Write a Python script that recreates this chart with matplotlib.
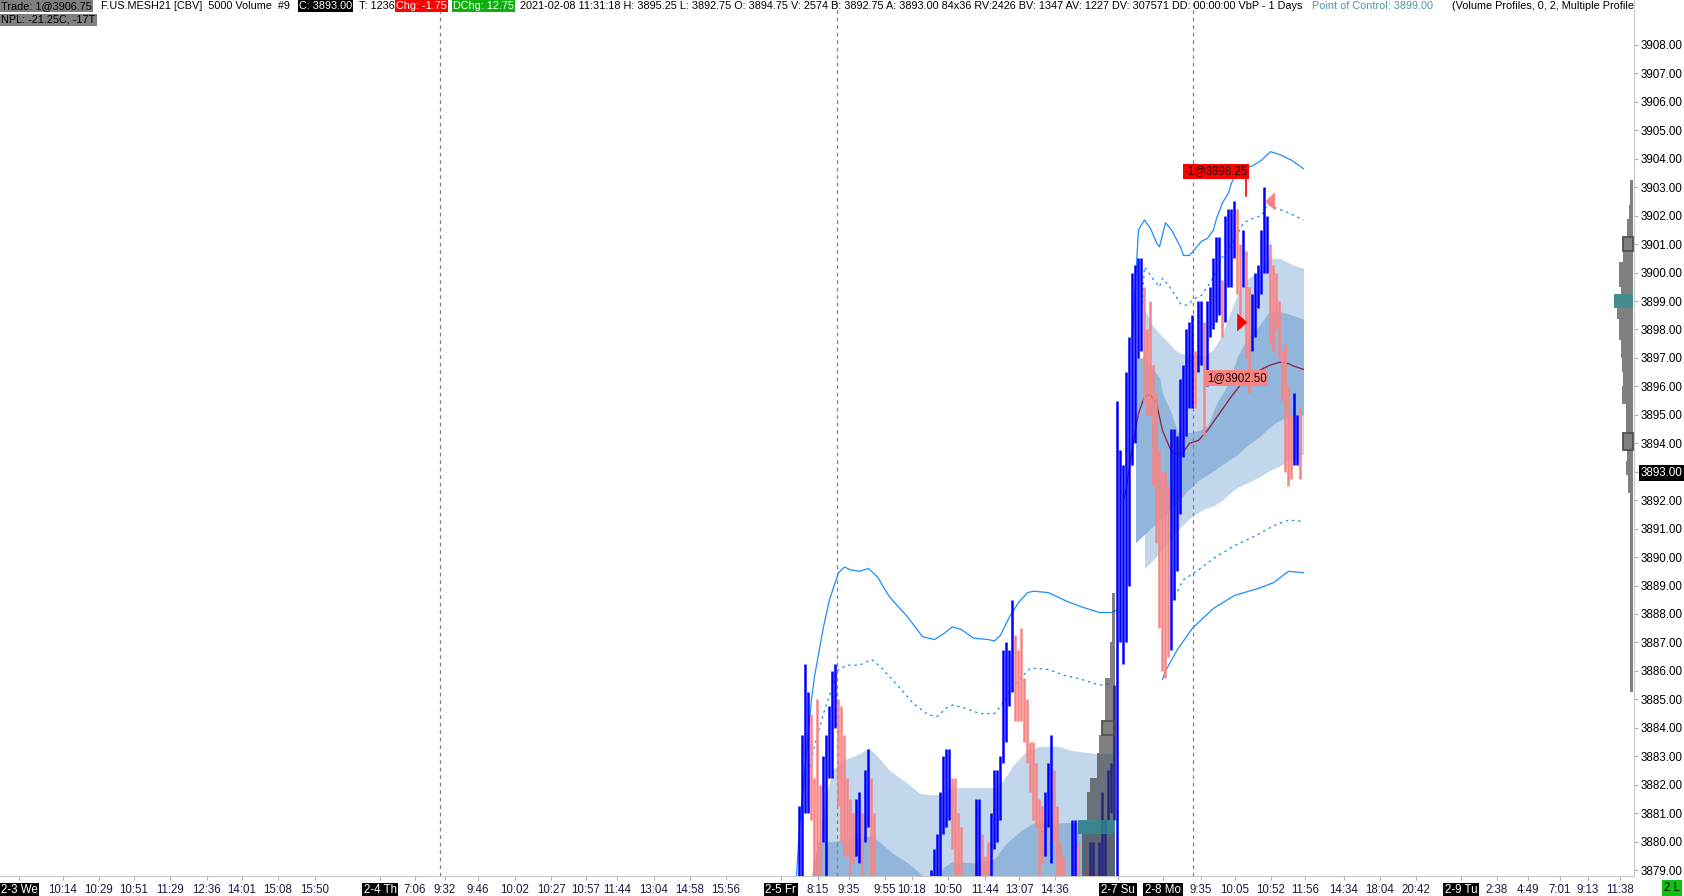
import numpy as np
import matplotlib.pyplot as plt
from matplotlib.patches import Rectangle

plt.rcParams['font.family'] = ['Liberation Sans', 'DejaVu Sans']

nan = np.nan

# 5000-volume bars, index = bar number (nan = bar below the visible range)
bar_high = [
    3881.25, 3883.75, 3886.25, 3885.25, 3884.5, 3882.25, 3885.0, 3882.0, 3883.0, 3883.75,
    3884.75, 3886.0, 3886.25, 3885.0, 3884.75, 3883.75, 3882.25, 3881.5, 3881.0, 3881.5,
    3881.75, 3881.0, 3882.5, 3883.25, 3882.25, 3881.0, nan, nan, nan, nan,
    nan, nan, nan, nan, nan, nan, nan, nan, nan, nan,
    nan, nan, nan, nan, 3879.0, 3879.75, 3880.25, 3881.75, 3883.0, 3883.25,
    3883.25, 3882.25, 3882.25, 3881.0, 3880.5, nan, nan, nan, nan, 3881.5,
    3881.5, 3880.25, 3879.5, 3880.0, 3881.0, 3882.5, 3882.5, 3883.0, 3886.75, 3887.0,
    3886.75, 3888.5, 3887.25, 3886.75, 3887.5, 3885.75, 3885.0, 3883.5, 3883.5, 3882.75,
    3881.5, 3881.25, 3881.75, 3882.75, 3883.75, 3882.5, 3881.25, 3880.0, 3879.5, nan,
    nan, 3880.75, 3880.75, 3880.0, nan, nan, 3879.0, 3880.0, 3880.0, nan,
    3880.0, 3881.75, 3880.75, 3882.5, 3882.75, 3885.5, 3895.5, 3893.75, 3893.25, 3896.5,
    3897.75, 3900.0, 3900.25, 3900.5, 3900.5, 3899.5, 3898.0, 3899.0, 3896.75, 3895.75,
    3893.75, 3893.0, 3893.0, 3892.5, 3894.5, 3894.5, 3894.25, 3896.25, 3896.75, 3898.0,
    3898.25, 3898.5, 3897.25, 3899.0, 3899.0, 3898.25, 3899.0, 3899.5, 3900.5, 3901.25,
    3901.25, 3899.75, 3902.0, 3902.25, 3902.25, 3902.5, 3902.25, 3901.0, 3901.5, 3900.75,
    3899.5, 3899.25, 3900.0, 3900.25, 3901.5, 3903.0, 3902.0, 3901.0, 3900.25, 3900.0,
    3899.0, 3897.25, 3897.5, 3896.0, 3895.0, 3895.75, 3895.0, 3895.25]
bar_low = [
    3878.0, 3878.0, 3881.0, 3881.0, 3880.75, 3878.0, 3878.0, 3878.0, 3880.0, 3878.0,
    3882.25, 3882.25, 3884.0, 3881.25, 3880.0, 3879.5, 3879.5, 3878.0, 3879.25, 3879.5,
    3879.25, 3878.0, 3880.0, 3880.5, 3878.0, 3878.0, nan, nan, nan, nan,
    nan, nan, nan, nan, nan, nan, nan, nan, nan, nan,
    nan, nan, nan, nan, 3878.0, 3878.0, 3878.0, 3878.0, 3880.25, 3880.5,
    3880.75, 3879.75, 3878.0, 3878.0, 3878.0, nan, nan, nan, nan, 3878.0,
    3878.0, 3878.0, 3878.0, 3878.0, 3878.0, 3879.75, 3880.0, 3880.75, 3882.75, 3883.5,
    3884.75, 3885.25, 3884.25, 3884.25, 3884.25, 3883.5, 3882.75, 3881.75, 3880.75, 3880.5,
    3878.0, 3879.25, 3879.5, 3880.5, 3879.25, 3880.0, 3878.0, 3878.0, 3878.0, nan,
    nan, 3878.0, 3878.0, 3878.0, nan, nan, 3878.0, 3878.0, 3878.0, nan,
    3878.0, 3878.0, 3878.0, 3880.75, 3881.0, 3880.75, 3878.0, 3887.0, 3886.25, 3887.0,
    3889.0, 3893.25, 3894.0, 3897.0, 3897.25, 3895.5, 3895.0, 3895.0, 3892.5, 3890.5,
    3887.5, 3886.0, 3885.75, 3886.5, 3886.75, 3888.5, 3889.5, 3891.5, 3893.5, 3894.25,
    3895.25, 3895.25, 3895.25, 3896.5, 3896.75, 3894.25, 3896.0, 3897.75, 3898.0, 3898.25,
    3898.5, 3897.75, 3898.25, 3899.5, 3899.5, 3900.5, 3899.25, 3898.5, 3899.5, 3897.0,
    3895.75, 3897.25, 3897.75, 3898.75, 3899.25, 3900.0, 3900.0, 3897.5, 3897.25, 3898.0,
    3897.0, 3895.5, 3893.0, 3892.5, 3892.75, 3893.25, 3893.25, 3892.75]
bar_dir = ("uuuudddduu" "uuuddddddu" "uduudd----" "----------" "----uuuuuu"
           "udddd----u" "uddduuuuuu" "uudddddddd" "dduuudddd-" "-uud--duu-"
           "uuuuuuuuuu" "uuuuuddddd" "dddduuuuuu" "uuduuduuuu" "uduuuuddud"
           "duuuuuuddd" "ddddduud")

# Friday session bands
fri_up2_x = [-1, 0, 4, 5, 8, 10, 13, 15, 17, 20, 23, 26, 30, 36, 41, 45, 48, 51, 54, 58, 63, 65, 67, 70, 73, 76, 78, 83, 89, 94, 100, 104, 106]
fri_up2_y = [3878.8, 3880.5, 3885.0, 3885.8, 3887.55, 3888.5, 3889.45, 3889.65, 3889.55, 3889.5, 3889.6, 3889.3, 3888.6, 3887.9, 3887.2, 3887.1, 3887.3, 3887.55, 3887.45, 3887.15, 3887.1, 3887.05, 3887.25, 3887.9, 3888.4, 3888.75, 3888.8, 3888.75, 3888.45, 3888.25, 3888.05, 3888.05, 3888.15]
fri_up1_x = [3, 5, 8, 11, 13, 16, 20, 24, 27, 33, 38, 43, 46, 49, 51, 55, 60, 65, 67, 71, 77, 83, 88, 94, 100, 104]
fri_up1_y = [3882.4, 3883.35, 3884.5, 3885.45, 3886.05, 3886.2, 3886.2, 3886.4, 3886.15, 3885.45, 3884.85, 3884.45, 3884.4, 3884.7, 3884.8, 3884.7, 3884.5, 3884.5, 3884.75, 3885.45, 3886.1, 3886.05, 3885.85, 3885.7, 3885.5, 3885.55]
fri_light_x = [5, 7, 9, 11, 14, 18, 21, 23, 26, 30, 36, 40, 43, 47, 51, 56, 60, 65, 68, 71, 74, 76, 80, 86, 91, 98, 105]
fri_light_y = [3878.8, 3880.5, 3881.7, 3882.5, 3882.85, 3883.0, 3883.15, 3883.3, 3883.0, 3882.5, 3882.05, 3881.7, 3881.65, 3881.65, 3881.9, 3881.9, 3881.9, 3881.9, 3882.15, 3882.65, 3883.0, 3883.2, 3883.35, 3883.35, 3883.2, 3883.1, 3883.1]
fri_mid_x = [4, 5, 6, 11, 18, 24, 27, 31, 36, 40, 42, 46, 48, 51, 58, 65, 69, 74, 78, 86, 94, 105]
fri_mid_y = [3878.8, 3879.35, 3880.0, 3880.0, 3880.1, 3880.2, 3879.95, 3879.6, 3879.25, 3878.9, 3878.7, 3878.7, 3879.1, 3879.3, 3879.25, 3879.4, 3879.95, 3880.4, 3880.65, 3880.65, 3880.7, 3880.7]

# Monday session bands
mon_up2_x = [111, 112, 113, 115, 117, 119, 120, 122, 124, 127, 128, 130, 132, 134, 136, 138, 139, 141, 143, 144, 146, 149, 151, 154, 157, 160, 164, 168]
mon_up2_y = [3897.7, 3899.7, 3901.5, 3901.85, 3901.55, 3901.05, 3900.9, 3901.75, 3901.5, 3900.9, 3900.6, 3900.6, 3900.85, 3901.1, 3901.2, 3901.5, 3901.9, 3902.45, 3902.8, 3903.15, 3903.55, 3903.7, 3903.75, 3903.95, 3904.25, 3904.15, 3903.95, 3903.65]
mon_up1_x = [114, 115, 118, 120, 121, 123, 125, 127, 129, 132, 134, 136, 138, 141, 145, 148, 151, 154, 156, 158, 163, 168]
mon_up1_y = [3898.7, 3900.2, 3899.75, 3899.5, 3899.8, 3899.55, 3899.25, 3898.9, 3898.85, 3899.1, 3899.2, 3899.5, 3899.85, 3900.55, 3901.15, 3901.75, 3901.9, 3902.0, 3902.4, 3902.3, 3902.1, 3901.85]
mon_dn1_x = [126, 128, 133, 138, 145, 153, 158, 163, 168]
mon_dn1_y = [3888.8, 3889.2, 3889.55, 3889.95, 3890.4, 3890.8, 3891.1, 3891.3, 3891.25]
mon_dn2_x = [121, 122, 126, 131, 138, 145, 153, 158, 163, 168]
mon_dn2_y = [3885.7, 3886.0, 3886.75, 3887.5, 3888.2, 3888.65, 3888.9, 3889.1, 3889.5, 3889.45]
mon_vwap_x = [108, 109, 111, 113, 115, 117, 119, 121, 124, 126, 128, 130, 133, 136, 140, 144, 147, 150, 154, 157, 160, 163, 165, 168]
mon_vwap_y = [3892.0, 3892.45, 3893.9, 3895.05, 3895.65, 3895.7, 3895.4, 3894.45, 3893.7, 3893.6, 3893.7, 3894.0, 3894.1, 3894.45, 3895.05, 3895.65, 3896.05, 3896.3, 3896.6, 3896.75, 3896.85, 3896.8, 3896.7, 3896.6]
mon_light_x = [115, 118, 121, 125, 127, 131, 135, 138, 141, 144, 146, 149, 153, 156, 160, 165, 168]
mon_light_top = [3898.7, 3898.1, 3897.75, 3897.3, 3897.15, 3897.15, 3897.05, 3897.3, 3897.85, 3898.7, 3899.25, 3899.75, 3900.05, 3900.5, 3900.5, 3900.25, 3900.15]
mon_light_bot = [3889.6, 3889.9, 3890.3, 3890.8, 3891.05, 3891.45, 3891.7, 3891.8, 3892.0, 3892.3, 3892.45, 3892.6, 3892.8, 3893.0, 3893.2, 3893.5, 3893.6]
mon_mid_x = [112, 115, 118, 120, 121, 124, 126, 129, 133, 136, 139, 143, 146, 149, 153, 156, 159, 163, 168]
mon_mid_top = [3897.0, 3897.0, 3896.6, 3896.3, 3895.75, 3895.05, 3894.4, 3894.35, 3894.45, 3894.6, 3895.4, 3896.1, 3897.05, 3897.65, 3898.1, 3898.55, 3898.65, 3898.55, 3898.35]
mon_mid_bot = [3890.5, 3890.8, 3891.1, 3891.3, 3891.4, 3891.7, 3891.9, 3892.3, 3892.7, 3892.9, 3893.1, 3893.4, 3893.6, 3893.9, 3894.2, 3894.5, 3894.75, 3894.95, 3895.0]

# volume profiles (price bin edges, relative volume)
fri_vp_edges = [3888.75, 3887.0, 3885.75, 3884.25, 3883.75, 3883.125, 3882.25, 3881.75, 3880.75, 3880.25, 3879.75, 3878.0]
fri_vp_vol = [3.3, 5, 10, 13.3, 15.7, 18.3, 25, 28.3, 37.3, 33.3, 33.3]
fri_vp_poc, fri_vp_va = 8, [3]
mon_vp_edges = [3903.25, 3902.375, 3901.875, 3901.25, 3900.75, 3900.375, 3899.5, 3899.25, 3898.75, 3898.375,
                3897.625, 3897.0, 3896.5, 3896.0, 3895.375, 3894.375, 3893.75, 3893.375, 3892.875, 3892.25, 3885.25]
mon_vp_vol = [2.7, 4, 6, 9.4, 10, 13.4, 12, 18.7, 15.4, 13.4, 12, 10.7, 10, 10.7, 6.7, 10, 6, 6.7, 5, 2.7]
mon_vp_poc, mon_vp_va = 7, [3, 15]

# trades
sell_bar, sell_price = 149.2, 3898.25
buy_bar, buy_price = 155.2, 3902.50

# axis labels
price_ticks = list(range(3879, 3909))
last_price = 3893
time_labels = ["2-3 We", "10:14", "10:29", "10:51", "11:29", "12:36", "14:01", "15:08", "15:50",
               "2-4 Th", "7:06", "9:32", "9:46", "10:02", "10:27", "10:57", "11:44", "13:04", "14:58", "15:56",
               "2-5 Fr", "8:15", "9:35", "9:55", "10:18", "10:50", "11:44", "13:07", "14:36",
               "2-7 Su", "2-8 Mo", "9:35", "10:05", "10:52", "11:56", "14:34", "18:04", "20:42",
               "2-9 Tu", "2:38", "4:49", "7:01", "9:13", "11:38"]
time_pos = [-260.2, -245.5, -233.5, -221.8, -209.8, -197.5, -185.8, -173.8, -161.5,
            -139.8, -128.2, -118.2, -107.2, -94.8, -82.8, -71.2, -60.8, -48.5, -36.5, -24.5,
            -6.2, 6.2, 16.5, 28.5, 37.5, 49.5, 61.8, 73.2, 85.2,
            106.2, 121.2, 133.8, 145.2, 157.2, 168.5, 181.5, 193.5, 205.5,
            220.5, 232.5, 242.8, 253.5, 262.8, 273.5]
session_lines = [-119.8, 12.5, 131.2]

W, H = 1684, 896
fig = plt.figure(figsize=(W / 100, H / 100), dpi=100)
ax = fig.add_axes([0, 20 / H, 1634 / W, 876 / H])
xmin, xmax = -266.5, 278.17
ymin, ymax = 3878.79, 3909.58
ax.set_xlim(xmin, xmax)
ax.set_ylim(ymin, ymax)

light, mid = '#c2d7ec', '#92b5dc'
band = '#1e8cff'

# fills
ax.fill_between(fri_light_x, fri_light_y, ymin - 1, color=light, lw=0, zorder=1)
ax.fill_between(fri_mid_x, fri_mid_y, ymin - 1, color=mid, lw=0, zorder=1.1)
ax.fill_between(mon_light_x, mon_light_top, mon_light_bot, color=light, lw=0, zorder=1)
ax.fill_between(mon_mid_x, mon_mid_top, mon_mid_bot, color=mid, lw=0, zorder=1.1)

# band lines
ax.plot(fri_up2_x, fri_up2_y, color=band, lw=0.9, zorder=2)
ax.plot(fri_up1_x, fri_up1_y, color=band, lw=0.9, ls=(0, (2, 3)), zorder=2)
ax.plot(mon_up2_x, mon_up2_y, color=band, lw=0.9, zorder=2)
ax.plot(mon_up1_x, mon_up1_y, color=band, lw=0.9, ls=(0, (2, 3)), zorder=2)
ax.plot(mon_dn2_x, mon_dn2_y, color=band, lw=0.9, zorder=2)
ax.plot(mon_dn1_x, mon_dn1_y, color=band, lw=0.9, ls=(0, (2, 3)), zorder=2)
ax.plot(mon_vwap_x, mon_vwap_y, color='#8c1e3c', lw=0.9, zorder=2)

# session separators
for xs in session_lines:
    ax.axvline(xs, color='#808080', lw=0.9, ls=(0, (3, 3)), zorder=2.5)

# bars
hi = np.array(bar_high)
lo = np.array(bar_low)
idx = np.arange(len(hi))
for d, col in (('u', '#0000ff'), ('d', '#f88484')):
    m = np.array([c == d for c in bar_dir]) & ~np.isnan(hi)
    ax.vlines(idx[m], lo[m], hi[m], colors=col, lw=1.8, zorder=3)


# volume profiles
def profile(edges, vols, right, poc, va, alpha):
    for k, v in enumerate(vols):
        w = v / 3
        fc = '#2f7f86' if k == poc else '#3c3c3c'
        a = 0.9 if k == poc else alpha
        ax.add_patch(Rectangle((right - w, edges[k + 1]), w, edges[k] - edges[k + 1],
                               fc=fc, alpha=a, ec='none', zorder=4))
        if k in va:
            ax.add_patch(Rectangle((right - w, edges[k + 1]), w, edges[k] - edges[k + 1],
                                   fc='none', ec='#505050', lw=1.3, zorder=4.1))


profile(fri_vp_edges, fri_vp_vol, 105.2, fri_vp_poc, fri_vp_va, 0.65)
profile(mon_vp_edges, mon_vp_vol, xmax - 0.4, mon_vp_poc, mon_vp_va, 0.65)

# trade markers
ax.fill([sell_bar - 3.3, sell_bar, sell_bar - 3.3],
        [sell_price + 0.32, sell_price, sell_price - 0.32], color='#ff0000', lw=0, zorder=5)
ax.fill([buy_bar + 3.3, buy_bar, buy_bar + 3.3],
        [buy_price + 0.32, buy_price, buy_price - 0.32], color='#f88484', lw=0, zorder=5)
ax.plot([149, 149], [3903.3, 3902.7], color='#ff0000', lw=1.2, zorder=5)
ax.text(138.8, 3903.55, "-1@3898.25", fontsize=8.3, ha='center', va='center', color='#1a0000',
        bbox=dict(boxstyle='square,pad=0.15', fc='#ff0000', ec='none'), zorder=6)
ax.text(145.7, 3896.3, "1@3902.50", fontsize=8.3, ha='center', va='center', color='#1a0000',
        bbox=dict(boxstyle='square,pad=0.15', fc='#f88484', ec='none'), zorder=6)

# axes styling
for s in ('top', 'left'):
    ax.spines[s].set_visible(False)
ax.spines['right'].set_color('#c8c8c8')
ax.spines['bottom'].set_color('#c8c8c8')
ax.yaxis.tick_right()
ax.set_yticks(price_ticks, [f"{v:.2f}" for v in price_ticks])
ax.tick_params(axis='y', length=3, pad=2, labelsize=8.4, color='#b0b0b0')
ax.set_xticks(time_pos, time_labels)
ax.tick_params(axis='x', length=3, pad=3, labelsize=8.3, color='#b0b0b0', labelcolor='#1a1a40')
for lbl in ax.get_yticklabels():
    if lbl.get_text() == f"{last_price:.2f}":
        lbl.set_color('white')
        lbl.set_bbox(dict(boxstyle='square,pad=0.15', fc='black', ec='none'))
for lbl in ax.get_xticklabels():
    if '-' in lbl.get_text():
        lbl.set_color('white')
        lbl.set_bbox(dict(boxstyle='square,pad=0.15', fc='black', ec='none'))


# header line
def head(x, y, s, color='black', bg=None, fs=7.8):
    kw = dict(fontsize=fs, color=color, ha='left', va='center', zorder=7, clip_on=True,
              transform=ax.transAxes)
    if bg:
        kw['bbox'] = dict(boxstyle='square,pad=0.12', fc=bg, ec='none')
    ax.text(x / 1634, 1 - y / 876, s, **kw)


head(1, 6, "Trade: 1@3906.75", bg='#808080')
head(1, 20, "NPL: -21.25C, -17T", bg='#808080')
head(101, 6, "F.US.MESH21 [CBV]  5000 Volume  #9")
head(299, 6, "C: 3893.00", color='white', bg='black')
head(359, 6, "T: 1236")
head(396, 6, "Chg: -1.75", color='white', bg='#ff0000')
head(453, 6, "DChg: 12.75", color='white', bg='#10b010')
head(520, 6, "2021-02-08 11:31:18 H: 3895.25 L: 3892.75 O: 3894.75 V: 2574 B: 3892.75 A: 3893.00 "
             "84x36 RV:2426 BV: 1347 AV: 1227 DV: 307571 DD: 00:00:00 VbP - 1 Days")
head(1312, 6, "Point of Control: 3899.00", color='#4a9a9e')
head(1452, 6, "(Volume Profiles, 0, 2, Multiple Profiles)")

fig.text(1672 / W, 1 - 888 / H, "2 L", fontsize=8.3, ha='center', va='center', color='black',
         bbox=dict(boxstyle='square,pad=0.2', fc='#10c010', ec='none'))

fig.savefig("out.png", dpi=100)
